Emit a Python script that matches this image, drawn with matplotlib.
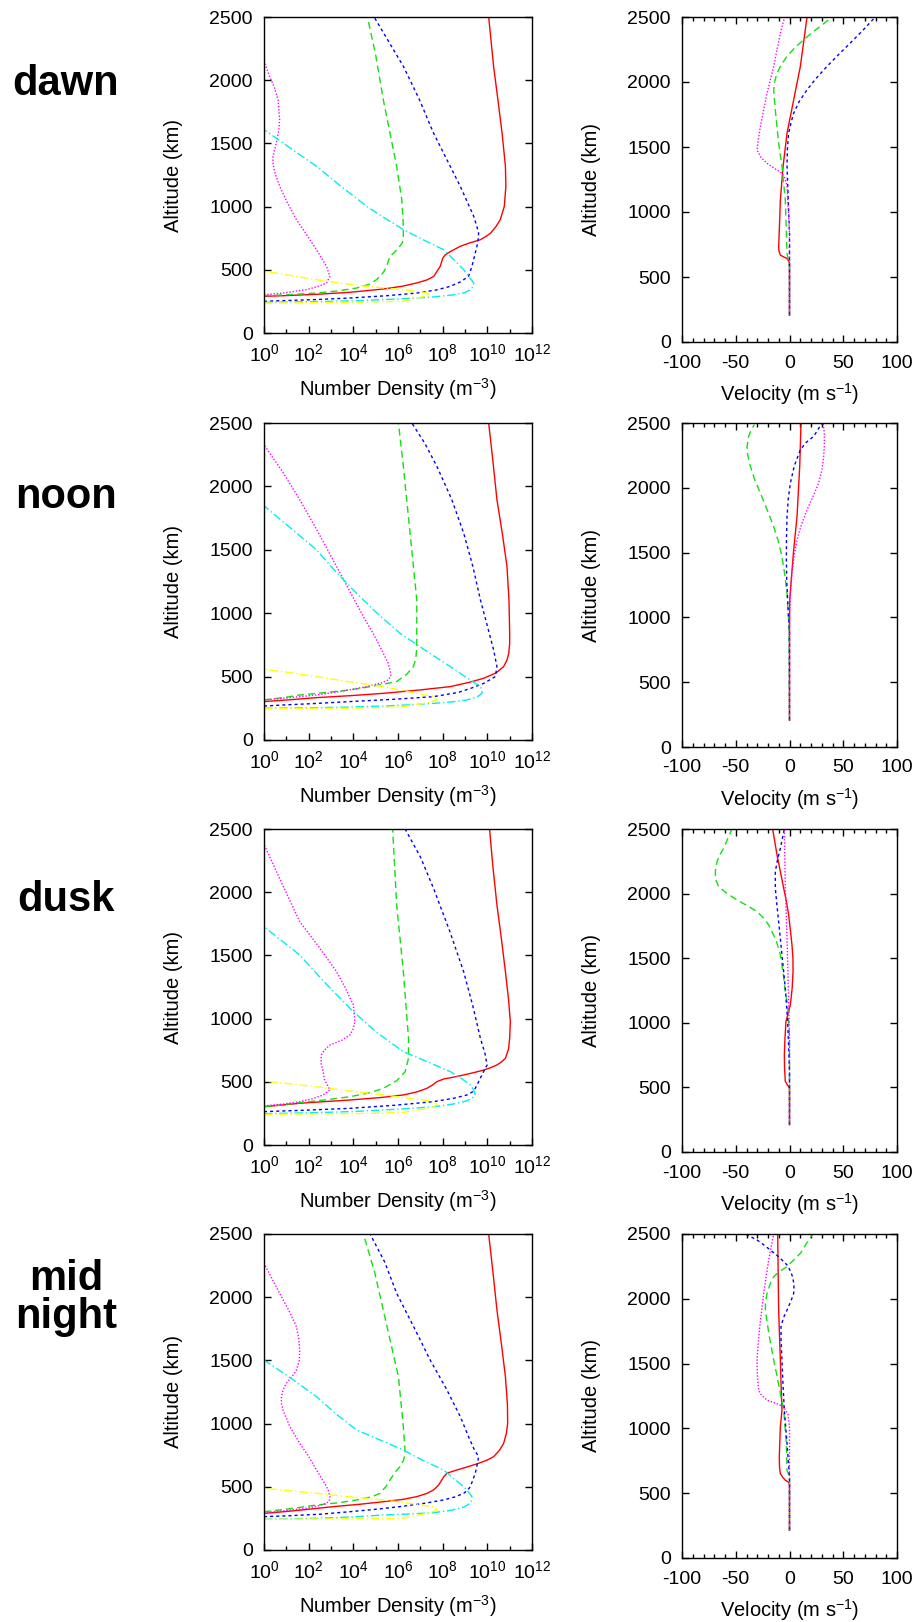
import matplotlib
matplotlib.use("Agg")
import matplotlib.pyplot as plt
import numpy as np
from matplotlib.ticker import NullFormatter

plt.rcParams["font.family"] = ["Liberation Sans", "DejaVu Sans"]
plt.rcParams["mathtext.fontset"] = "custom"
plt.rcParams["mathtext.rm"] = "Liberation Sans"
plt.rcParams["mathtext.it"] = "Liberation Sans:italic"
plt.rcParams["mathtext.bf"] = "Liberation Sans:bold"
plt.rcParams["axes.unicode_minus"] = False
plt.rcParams["font.size"] = 14

# local times, one per row
times = ["dawn", "noon", "dusk", "mid\nnight"]

# log10 number density (m^-3): (altitude km, log10 n)
dawn_logn = {
    "red": [(290, 0), (295, 0.85), (306, 2.35), (322, 3.85), (348, 5.34), (370, 6.2), (396, 6.84),
            (420, 7.3), (448, 7.6), (527, 7.89), (590, 8.0), (615, 8.1), (640, 8.3), (686, 8.79),
            (712, 9.2), (738, 9.69), (765, 9.95), (791, 10.15), (845, 10.4), (897, 10.58),
            (1002, 10.76), (1160, 10.83), (1319, 10.81), (1582, 10.66), (1850, 10.47), (2110, 10.28),
            (2500, 10.06)],
    "green": [(295, 0), (301, 0.85), (316, 2.35), (335, 3.4), (356, 4.15), (385, 4.7), (422, 5.04),
              (480, 5.35), (527, 5.49), (607, 5.64), (640, 5.85), (672, 6.02), (710, 6.18), (738, 6.24),
              (844, 6.24), (1055, 6.17), (1319, 5.94), (1846, 5.34), (2200, 5.0), (2500, 4.63)],
    "blue": [(251, 0), (256, 0.85), (265, 2.4), (277, 3.85), (295, 5.5), (316, 6.84), (340, 7.7),
             (369, 8.34), (405, 8.8), (448, 9.16), (527, 9.31), (633, 9.46), (720, 9.58), (791, 9.61),
             (850, 9.52), (923, 9.39), (1160, 8.79), (1582, 7.59), (1850, 6.95), (2110, 6.24),
             (2300, 5.6), (2500, 4.93)],
    "magenta": [(303, 0), (316, 0.85), (343, 1.90), (370, 2.45), (396, 2.80), (448, 2.95), (527, 2.80),
                (659, 2.35), (780, 1.9), (897, 1.45), (1030, 1.05), (1160, 0.7), (1260, 0.5),
                (1345, 0.4), (1398, 0.4), (1503, 0.55), (1600, 0.66), (1688, 0.70), (1846, 0.63),
                (1950, 0.45), (2031, 0.25), (2149, 0)],
    "cyan": [(243, 0), (248, 2.35), (255, 4.0), (264, 5.34), (275, 6.6), (285, 7.59), (300, 8.4),
             (320, 9.0), (343, 9.24), (370, 9.38), (396, 9.39), (440, 9.2), (501, 8.94), (580, 8.5),
             (659, 8.04), (740, 7.1), (818, 6.24), (910, 5.4), (1002, 4.60), (1160, 3.45),
             (1319, 2.35), (1460, 1.2), (1609, 0)],
    "yellow": [(237, 0), (243, 3.85), (251, 6.24), (265, 6.6), (277, 6.84), (290, 7.2), (303, 7.44),
               (316, 7.3), (330, 6.84), (350, 5.8), (369, 4.60), (395, 3.4), (422, 2.35), (455, 1.2),
               (488, 0)],
}
noon_logn = {
    "red": [(303, 0), (318, 1.2), (334, 2.35), (350, 3.9), (368, 5.34), (395, 7.0), (421, 8.34),
            (455, 9.2), (487, 9.84), (530, 10.4), (579, 10.73), (630, 10.88), (684, 10.96), (760, 11.0),
            (842, 11.0), (1100, 10.97), (1368, 10.88), (1630, 10.67), (1895, 10.43), (2200, 10.25),
            (2500, 10.06)],
    "green": [(316, 0), (335, 0.9), (355, 1.60), (375, 2.8), (395, 3.85), (425, 4.9), (461, 5.94),
              (520, 6.4), (579, 6.69), (640, 6.8), (737, 6.84), (1105, 6.84), (1632, 6.54),
              (2158, 6.24), (2500, 6.02)],
    "blue": [(268, 0), (276, 0.85), (288, 2.3), (303, 3.85), (322, 5.9), (342, 7.59), (375, 8.7),
             (410, 9.3), (447, 9.84), (500, 10.36), (579, 10.43), (711, 10.28), (900, 10.0),
             (1105, 9.69), (1370, 9.35), (1632, 8.94), (1900, 8.4), (2158, 7.74), (2340, 7.2),
             (2500, 6.62)],
    "magenta": [(316, 0), (335, 1.2), (355, 2.35), (385, 3.5), (421, 4.60), (450, 5.25), (474, 5.57),
                (510, 5.68), (553, 5.64), (610, 5.55), (684, 5.34), (820, 4.95), (974, 4.45),
                (1170, 3.85), (1368, 3.25), (1630, 2.45), (1895, 1.60), (2110, 0.85), (2329, 0)],
    "cyan": [(250, 0), (255, 2.35), (260, 3.9), (268, 5.34), (278, 6.6), (289, 7.59), (300, 8.4),
             (316, 9.09), (340, 9.55), (368, 9.76), (395, 9.76), (421, 9.69), (500, 9.0), (579, 8.34),
             (710, 7.2), (842, 6.09), (1010, 5.0), (1184, 3.99), (1340, 3.15), (1500, 2.35),
             (1670, 1.2), (1847, 0)],
    "yellow": [(247, 0), (250, 3.85), (256, 5.2), (263, 6.24), (280, 6.9), (300, 7.45), (316, 7.74),
               (330, 7.7), (342, 7.59), (380, 6.5), (421, 5.34), (460, 3.8), (500, 2.35), (530, 1.2),
               (558, 0)],
}
dusk_logn = {
    "red": [(303, 0), (316, 0.8), (330, 1.60), (343, 2.7), (356, 3.85), (375, 5.2), (396, 6.24),
            (420, 6.85), (448, 7.29), (475, 7.55), (501, 7.74), (512, 7.9), (522, 8.04), (537, 8.5),
            (554, 8.94), (573, 9.4), (593, 9.84), (612, 10.15), (633, 10.43), (660, 10.65),
            (686, 10.81), (760, 10.95), (844, 11.0), (976, 11.03), (1150, 10.95), (1371, 10.81),
            (1630, 10.63), (1899, 10.43), (2200, 10.25), (2500, 10.10)],
    "green": [(303, 0), (318, 0.8), (335, 1.60), (358, 2.8), (382, 3.85), (412, 4.7), (448, 5.34),
              (510, 5.95), (580, 6.32), (686, 6.47), (844, 6.47), (1371, 6.24), (1899, 5.94),
              (2500, 5.76)],
    "blue": [(264, 0), (275, 1.8), (290, 3.85), (315, 5.9), (343, 7.59), (370, 8.5), (396, 9.09),
             (420, 9.33), (448, 9.46), (501, 9.61), (570, 9.8), (633, 9.99), (720, 9.9), (844, 9.69),
             (1100, 9.35), (1371, 8.94), (1700, 8.3), (2031, 7.59), (2280, 7.0), (2500, 6.32)],
    "magenta": [(309, 0), (325, 0.9), (343, 1.60), (368, 2.2), (396, 2.65), (435, 2.95), (470, 2.85),
                (520, 2.7), (580, 2.65), (650, 2.55), (712, 2.57), (750, 2.7), (791, 2.95),
                (830, 3.5), (870, 3.85), (920, 4.0), (976, 4.07), (1108, 4.0), (1240, 3.65),
                (1371, 3.25), (1570, 2.45), (1767, 1.60), (2070, 0.8), (2379, 0)],
    "cyan": [(248, 0), (256, 2.35), (265, 4.0), (277, 5.34), (290, 6.6), (303, 7.59), (325, 8.5),
             (350, 9.1), (369, 9.31), (396, 9.46), (430, 9.4), (475, 9.24), (525, 8.85), (580, 8.34),
             (660, 7.3), (738, 6.24), (890, 5.05), (1055, 4.0), (1280, 2.75), (1503, 1.60),
             (1615, 0.8), (1727, 0)],
    "yellow": [(243, 0), (248, 3.85), (252, 5.2), (258, 6.24), (280, 7.0), (300, 7.55), (316, 7.74),
               (330, 7.7), (343, 7.59), (370, 6.5), (396, 5.34), (428, 3.8), (461, 2.35), (485, 1.1),
               (506, 0)],
}
midnight_logn = {
    "red": [(290, 0), (300, 0.7), (315, 1.6), (343, 3.10), (362, 4.3), (382, 5.34), (400, 6.2),
            (422, 6.84), (448, 7.3), (475, 7.59), (510, 7.8), (554, 7.96), (580, 8.05), (607, 8.19),
            (620, 8.4), (633, 8.64), (660, 9.15), (686, 9.61), (712, 10.0), (738, 10.28), (790, 10.55),
            (844, 10.73), (920, 10.85), (1002, 10.91), (1150, 10.9), (1371, 10.81), (1630, 10.63),
            (1899, 10.43), (2200, 10.25), (2500, 10.06)],
    "green": [(303, 0), (325, 1.1), (356, 2.35), (375, 3.4), (396, 4.15), (420, 4.8), (448, 5.19),
              (500, 5.45), (554, 5.64), (610, 5.85), (659, 6.09), (710, 6.25), (765, 6.32), (976, 6.24),
              (1371, 6.02), (1899, 5.34), (2200, 4.95), (2500, 4.45)],
    "blue": [(264, 0), (270, 1.0), (283, 2.5), (303, 3.85), (322, 5.0), (343, 6.09), (370, 7.2),
             (396, 8.04), (420, 8.55), (448, 8.94), (475, 9.12), (501, 9.24), (607, 9.46), (680, 9.55),
             (738, 9.61), (800, 9.4), (900, 9.15), (1055, 8.79), (1280, 8.15), (1503, 7.44),
             (1767, 6.7), (2031, 5.94), (2280, 5.4), (2500, 4.75)],
    "magenta": [(295, 0), (310, 0.9), (330, 1.90), (350, 2.45), (369, 2.80), (395, 2.93), (422, 2.95),
                (460, 2.9), (501, 2.80), (560, 2.6), (633, 2.35), (740, 2.0), (844, 1.60), (980, 1.15),
                (1108, 0.85), (1160, 0.78), (1213, 0.78), (1265, 0.85), (1319, 1.0), (1370, 1.25),
                (1424, 1.45), (1500, 1.58), (1582, 1.60), (1680, 1.55), (1767, 1.45), (1900, 1.1),
                (2031, 0.70), (2150, 0.35), (2268, 0)],
    "cyan": [(243, 0), (251, 2.35), (262, 4.0), (277, 5.34), (285, 6.5), (295, 7.59), (315, 8.4),
             (340, 8.95), (369, 9.24), (395, 9.3), (422, 9.31), (460, 9.15), (501, 8.94), (565, 8.5),
             (633, 8.04), (710, 7.1), (791, 6.24), (870, 5.2), (949, 4.15), (1080, 3.2), (1213, 2.35),
             (1360, 1.2), (1503, 0)],
    "yellow": [(243, 0), (247, 4.0), (251, 6.24), (275, 6.9), (300, 7.5), (316, 7.74), (330, 7.7),
               (343, 7.59), (370, 6.5), (396, 5.34), (422, 3.8), (448, 2.35), (468, 1.2), (488, 0)],
}

# velocity (m/s): (altitude km, velocity)
dawn_vel = {
    "red": [(206, 0), (604, 0), (625, -0.8), (642, -2.3), (655, -5.5), (668, -8.5), (700, -9.8),
            (732, -10.1), (900, -9.3), (1092, -8.5), (1349, -6.0), (1606, -2.3), (1863, 3.9),
            (2120, 10.1), (2500, 16.3)],
    "green": [(206, 0), (578, 0), (681, -2.3), (1092, -3.9), (1349, -7.0), (1529, -10.1),
              (1786, -13.2), (1940, -14.7), (2010, -13.6), (2068, -11.6), (2130, -7.8), (2197, -2.3),
              (2260, 4.5), (2325, 13.2), (2380, 21.0), (2428, 28.7), (2500, 39.5)],
    "blue": [(206, 0), (835, 0), (1100, -1.2), (1349, -2.3), (1480, -2.0), (1606, -0.8), (1690, 1.5),
             (1760, 3.9), (1850, 9.0), (1940, 16.3), (2030, 25.0), (2120, 34.9), (2210, 45.5),
             (2300, 56.6), (2400, 68.5), (2500, 79.8)],
    "magenta": [(206, 0), (835, 0), (1195, -2.3), (1260, -4.2), (1298, -7.0), (1330, -13.0),
                (1375, -20.9), (1420, -26.5), (1477, -30.2), (1560, -29.0), (1657, -27.1),
                (1914, -20.9), (2120, -14.7), (2377, -8.5), (2500, -4.5)],
}
noon_vel = {
    "red": [(206, 0), (876, 0), (1134, 0.2), (1330, 2.0), (1521, 3.9), (1778, 7.0), (2165, 9.5),
            (2500, 10.7)],
    "green": [(206, 0), (928, -0.5), (1186, -2.3), (1330, -4.4), (1469, -7.0), (1590, -10.5),
              (1701, -14.7), (1830, -20.8), (1959, -27.1), (2060, -32.2), (2165, -36.4), (2250, -38.8),
              (2320, -39.5), (2397, -38.0), (2450, -35.5), (2487, -32.7)],
    "blue": [(206, 0), (876, 0), (1134, -1.7), (1290, -2.6), (1443, -2.9), (1610, -2.8), (1778, -2.3),
             (1910, -1.2), (2036, 0.8), (2170, 4.5), (2294, 10.1), (2350, 15.5), (2397, 22.5),
             (2450, 26.5), (2500, 30.2)],
    "magenta": [(206, 0), (1031, 0), (1200, 1.0), (1340, 2.3), (1470, 4.2), (1598, 7.0), (1715, 11.0),
                (1830, 16.3), (1935, 22.0), (2036, 27.1), (2140, 30.2), (2242, 31.8), (2330, 32.4),
                (2423, 32.4), (2500, 31.2)],
}
dusk_vel = {
    "red": [(211, 0), (495, 0), (520, -2.0), (546, -3.9), (650, -4.6), (753, -4.8), (880, -4.2),
            (1010, -3.3), (1080, -1.0), (1139, 0.8), (1270, 2.5), (1397, 3.3), (1500, 3.2),
            (1603, 2.3), (1720, 0.8), (1835, -0.8), (1940, -2.9), (2041, -5.4), (2170, -8.5),
            (2299, -11.6), (2500, -15.7)],
    "green": [(211, 0), (881, 0), (1139, -1.7), (1242, -3.9), (1390, -6.0), (1526, -8.5),
              (1640, -12.5), (1758, -19.4), (1810, -24.0), (1861, -30.2), (1905, -39.0),
              (1951, -48.8), (2000, -58.0), (2054, -65.9), (2110, -68.8), (2170, -69.0),
              (2247, -67.4), (2300, -64.8), (2351, -61.2), (2430, -57.2), (2500, -53.5)],
    "blue": [(211, 0), (624, 0), (1010, -1.7), (1268, -3.9), (1526, -7.0), (1784, -10.1),
             (1920, -11.8), (2041, -13.2), (2170, -13.2), (2260, -11.2), (2351, -8.5), (2500, -4.8)],
    "magenta": [(211, 0), (881, 0), (1268, -1.1), (1655, -2.3), (2041, -3.9), (2500, -4.8)],
}
midnight_vel = {
    "red": [(214, 0), (574, 0), (588, -1.5), (600, -3.9), (625, -6.5), (651, -8.5), (700, -9.3),
            (780, -9.5), (900, -9.0), (1012, -8.5), (1141, -7.0), (1330, -7.8), (1527, -8.5),
            (1913, -10.1), (2500, -11.0)],
    "green": [(214, 0), (626, 0), (677, -2.3), (883, -2.9), (1141, -5.4), (1269, -8.5), (1400, -11.5),
              (1527, -14.7), (1720, -19.0), (1913, -22.5), (1980, -22.2), (2042, -20.9),
              (2110, -18.2), (2170, -14.7), (2210, -9.5), (2248, -2.3), (2300, 4.0), (2351, 10.1),
              (2430, 16.0), (2500, 21.6)],
    "blue": [(214, 0), (626, 0), (883, -2.3), (1141, -4.8), (1330, -6.0), (1527, -7.0), (1680, -7.8),
             (1784, -7.9), (1850, -5.8), (1913, -2.3), (1980, 1.2), (2042, 3.9), (2110, 4.2),
             (2170, 2.9), (2220, 0.5), (2261, -2.3), (2320, -9.5), (2376, -17.8), (2420, -24.5),
             (2454, -30.2), (2500, -41.1)],
    "magenta": [(214, 0), (1012, 0), (1110, -1.5), (1166, -5.4), (1195, -13.0), (1218, -20.9),
                (1255, -26.0), (1295, -28.7), (1410, -29.9), (1527, -30.2), (1650, -29.2),
                (1784, -27.7), (2042, -24.0), (2299, -19.4), (2500, -14.7)],
}

density_rows = [dawn_logn, noon_logn, dusk_logn, midnight_logn]
velocity_rows = [dawn_vel, noon_vel, dusk_vel, midnight_vel]

density_exps = [0, 2, 4, 6, 8, 10, 12]
velocity_ticks = [-100, -50, 0, 50, 100]
alt_ticks = [0, 500, 1000, 1500, 2000, 2500]

# gnuplot-ish line types
styles = {
    "red": dict(color="#ff0000", ls="-"),
    "green": dict(color="#11e011", ls=(0, (5, 3))),
    "blue": dict(color="#0000ff", ls=(0, (2.2, 2.2))),
    "magenta": dict(color="#ff00ff", ls=(0, (1.0, 1.3))),
    "cyan": dict(color="#00eeee", ls=(0, (6, 2, 1, 2))),
    "yellow": dict(color="#ffff00", ls=(0, (6, 2, 1, 2))),
}

W, H = 915, 1622
fig = plt.figure(figsize=(W / 100, H / 100), dpi=100)

# pixel boxes (top, bottom) of each row
den_rows_px = [(17, 333), (423, 740), (829, 1145), (1234, 1550)]
vel_rows_px = [(17, 342), (423, 747), (829, 1152), (1234, 1558)]
den_x_px = (264, 532)
vel_x_px = (682, 897)
label_y_px = [84, 497, 900, 1298]


def box(xpx, ypx):
    l, r = xpx
    t, b = ypx
    return [l / W, 1 - b / H, (r - l) / W, (b - t) / H]


def style_axes(ax):
    for s in ax.spines.values():
        s.set_linewidth(1.0)
    ax.tick_params(which="both", direction="in", width=1.0, labelsize=14, pad=8)
    ax.tick_params(which="major", length=5)
    ax.tick_params(which="minor", length=2.6)
    ax.set_ylim(0, 2500)
    ax.set_yticks(alt_ticks)
    ax.tick_params(axis="y", right=True)
    ax.set_ylabel("Altitude (km)", fontsize=14.5, labelpad=19)


for i in range(4):
    # number density panel
    ax = fig.add_axes(box(den_x_px, den_rows_px[i]))
    for name, pts in density_rows[i].items():
        pts = np.array(pts)
        ax.plot(10.0 ** pts[:, 1], pts[:, 0], lw=1.0, **styles[name])
    ax.set_xscale("log")
    ax.set_xlim(1, 1e12)
    ax.set_xticks([10.0 ** e for e in density_exps], [f"$10^{{{e}}}$" for e in density_exps])
    ax.set_xticks([10.0 ** e for e in range(1, 12, 2)], minor=True)
    ax.xaxis.set_minor_formatter(NullFormatter())
    style_axes(ax)
    ax.tick_params(axis="x", top=False, pad=7)
    ax.set_xlabel("Number Density (m$^{-3}$)", fontsize=14.5, labelpad=8)

    # velocity panel
    ax = fig.add_axes(box(vel_x_px, vel_rows_px[i]))
    for name, pts in velocity_rows[i].items():
        pts = np.array(pts)
        ax.plot(pts[:, 1], pts[:, 0], lw=1.0, **styles[name])
    ax.set_xlim(-100, 100)
    ax.set_xticks(velocity_ticks)
    ax.set_xticks(np.arange(-90, 100, 10), minor=True)
    style_axes(ax)
    ax.tick_params(axis="x", which="both", top=True, pad=9)
    ax.set_xlabel("Velocity (m s$^{-1}$)", fontsize=14.5, labelpad=7)

    fig.text(66 / W, 1 - label_y_px[i] / H, times[i], fontsize=30, fontweight="bold",
             ha="center", va="center", multialignment="center", linespacing=0.95)

fig.savefig("out.png", dpi=100)
